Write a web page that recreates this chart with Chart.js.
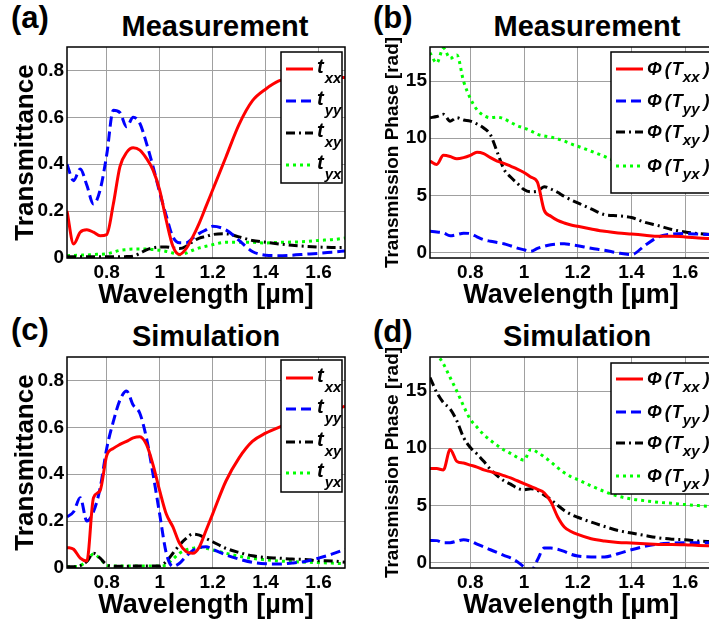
<!DOCTYPE html>
<html lang="en">

<head>
  <meta charset="UTF-8" />
  <meta name="viewport" content="width=device-width, initial-scale=1.0" />
  <title>Transmittance and Transmission Phase</title>
  <script src="https://cdn.jsdelivr.net/npm/chart.js"></script>
  <style>
    html, body { margin: 0; padding: 0; background: #fff; overflow: hidden; }
    body { width: 709px; height: 627px; position: relative; font-family: "Liberation Sans", Arial, sans-serif; }
    canvas { position: absolute; }
    .label { position: absolute; font-weight: bold; font-size: 31px; line-height: 1; }
    .title { position: absolute; font-weight: bold; font-size: 29px; line-height: 1; transform: translate(-50%, -50%); white-space: nowrap; }
  </style>
</head>

<body>
  <!-- panel labels and titles -->
  <div class="label" style="left:11px;top:2px">(a)</div>
  <div class="title" style="left:215px;top:26px">Measurement</div>
  <div class="label" style="left:373px;top:2px">(b)</div>
  <div class="title" style="left:587px;top:26px">Measurement</div>
  <div class="label" style="left:11px;top:314px">(c)</div>
  <div class="title" style="left:206px;top:336px">Simulation</div>
  <div class="label" style="left:373px;top:316px">(d)</div>
  <div class="title" style="left:577px;top:336px">Simulation</div>

  <canvas id="chartA" width="355" height="320" style="left:0;top:0"></canvas>
  <canvas id="chartB" width="380" height="320" style="left:355px;top:0"></canvas>
  <canvas id="chartC" width="355" height="320" style="left:0;top:310px"></canvas>
  <canvas id="chartD" width="380" height="320" style="left:355px;top:310px"></canvas>

  <script>
    // wavelength grid [µm], shared by every series
    const wavelength = [0.65, 0.675, 0.7, 0.725, 0.75, 0.775, 0.8, 0.825, 0.85, 0.875, 0.9, 0.925, 0.95, 0.975,
      1.0, 1.025, 1.05, 1.075, 1.1, 1.125, 1.15, 1.175, 1.2, 1.25, 1.3, 1.35, 1.4, 1.45, 1.5, 1.55, 1.6, 1.65, 1.7];

    const xTicks = [0.8, 1.0, 1.2, 1.4, 1.6];
    const ampTicks = [0, 0.2, 0.4, 0.6, 0.8];
    const phaseTicks = [0, 5, 10, 15];
    const subscripts = ['xx', 'yy', 'xy', 'yx'];

    // (a) measured transmittance
    const measTxx = [0.20, 0.06, 0.11, 0.12, 0.11, 0.095, 0.10, 0.23, 0.39, 0.45, 0.47, 0.46, 0.425, 0.375, 0.29, 0.16, 0.05,
      0.015, 0.04, 0.09, 0.15, 0.22, 0.29, 0.43, 0.57, 0.67, 0.72, 0.755, 0.77, 0.775, 0.775, 0.77, 0.77];
    const measTyy = [0.40, 0.33, 0.38, 0.31, 0.23, 0.29, 0.44, 0.63, 0.62, 0.56, 0.60, 0.575, 0.49, 0.39, 0.28, 0.18, 0.09,
      0.065, 0.065, 0.085, 0.105, 0.12, 0.135, 0.12, 0.075, 0.028, 0.012, 0.01, 0.012, 0.016, 0.02, 0.025, 0.03];
    const measTxy = [0.005, 0.005, 0.005, 0.005, 0.005, 0.005, 0.005, 0.005, 0.005, 0.006, 0.008, 0.02, 0.035, 0.043, 0.047, 0.047, 0.043,
      0.04, 0.05, 0.07, 0.085, 0.092, 0.10, 0.103, 0.09, 0.075, 0.067, 0.06, 0.054, 0.05, 0.047, 0.045, 0.045];
    const measTyx = [0.01, 0.011, 0.012, 0.013, 0.015, 0.016, 0.018, 0.025, 0.033, 0.036, 0.038, 0.038, 0.038, 0.036, 0.033, 0.028, 0.021,
      0.014, 0.021, 0.033, 0.043, 0.05, 0.057, 0.067, 0.067, 0.067, 0.064, 0.067, 0.068, 0.07, 0.075, 0.078, 0.085];

    // (b) measured transmission phase [rad]
    const measPxx = [8.0, 7.7, 8.5, 8.4, 8.2, 8.3, 8.5, 8.77, 8.65, 8.3, 8.0, 7.8, 7.55, 7.3, 7.0, 6.6, 6.15,
      3.7, 3.16, 2.8, 2.57, 2.4, 2.28, 2.05, 1.84, 1.7, 1.6, 1.5, 1.4, 1.4, 1.35, 1.26, 1.2];
    const measPyy = [1.84, 1.78, 1.7, 1.45, 1.55, 1.68, 1.64, 1.35, 1.1, 0.97, 0.86, 0.75, 0.57, 0.37, 0.22, 0.08, 0.35,
      0.53, 0.67, 0.73, 0.76, 0.67, 0.58, 0.35, 0.18, -0.06, -0.2, 0.6, 1.35, 1.6, 1.64, 1.6, 1.55];
    const measPxy = [11.8, 11.9, 12.1, 11.5, 11.8, 11.6, 11.5, 11.25, 10.9, 10.3, 8.8, 7.3, 6.6, 6.05, 5.5, 5.3, 5.35,
      5.75, 5.55, 5.26, 4.9, 4.6, 4.33, 3.8, 3.3, 3.2, 3.05, 2.63, 2.34, 2.0, 1.78, 1.64, 1.55];
    const measPyx = [17.5, 16.6, 17.9, 17.0, 17.3, 15.0, 13.5, 12.5, 12.0, 11.8, 11.85, 11.7, 11.4, 11.1, 10.9, 10.65, 10.35,
      10.2, 10.1, 9.95, 9.75, 9.5, 9.3, 8.86, 8.4, 7.9, 7.4, 7.0, 6.6, 6.3, 6.05, 5.8, 5.6];

    // (c) simulated transmittance
    const simTxx = [0.088, 0.08, 0.042, 0.03, 0.30, 0.33, 0.48, 0.51, 0.527, 0.54, 0.555, 0.56, 0.527, 0.44, 0.33, 0.23, 0.175,
      0.105, 0.07, 0.063, 0.09, 0.16, 0.23, 0.37, 0.47, 0.54, 0.575, 0.60, 0.62, 0.64, 0.655, 0.67, 0.69];
    const simTyy = [0.218, 0.24, 0.30, 0.20, 0.24, 0.34, 0.51, 0.625, 0.716, 0.755, 0.695, 0.66, 0.555, 0.40, 0.23, 0.063, 0.007,
      0.02, 0.05, 0.075, 0.088, 0.091, 0.08, 0.056, 0.038, 0.024, 0.018, 0.017, 0.021, 0.028, 0.042, 0.059, 0.08];
    const simTxy = [0.005, 0.005, 0.01, 0.028, 0.063, 0.042, 0.014, 0.008, 0.007, 0.007, 0.008, 0.008, 0.008, 0.008, 0.008, 0.028, 0.063,
      0.098, 0.126, 0.145, 0.14, 0.126, 0.112, 0.084, 0.066, 0.052, 0.045, 0.042, 0.038, 0.036, 0.031, 0.03, 0.025];
    const simTyx = [0.005, 0.006, 0.01, 0.03, 0.06, 0.04, 0.012, 0.008, 0.008, 0.008, 0.008, 0.008, 0.008, 0.008, 0.008, 0.014, 0.038,
      0.063, 0.077, 0.084, 0.088, 0.084, 0.077, 0.063, 0.05, 0.041, 0.035, 0.03, 0.027, 0.025, 0.023, 0.021, 0.018];

    // (d) simulated transmission phase [rad]
    const simPxx = [8.23, 8.22, 8.1, 9.9, 8.85, 8.7, 8.52, 8.35, 8.1, 7.95, 7.8, 7.6, 7.4, 7.15, 6.9, 6.65, 6.4,
      6.1, 5.3, 4.0, 3.1, 2.7, 2.44, 2.06, 1.86, 1.74, 1.69, 1.63, 1.57, 1.57, 1.54, 1.48, 1.45];
    const simPyy = [1.92, 1.9, 1.72, 1.72, 1.85, 1.98, 1.86, 1.6, 1.35, 1.1, 0.85, 0.6, 0.38, 0.05, -0.4, -0.8, 0.2,
      1.25, 1.25, 1.15, 0.95, 0.7, 0.55, 0.47, 0.47, 0.75, 1.1, 1.4, 1.6, 1.68, 1.72, 1.72, 1.72];
    const simPxy = [16.2, 14.9, 14.0, 13.45, 12.4, 10.95, 10.06, 9.5, 8.85, 8.15, 7.6, 7.15, 6.85, 6.5, 6.35, 6.45, 6.3,
      5.9, 5.5, 5.0, 4.55, 4.2, 3.95, 3.52, 3.14, 2.79, 2.56, 2.35, 2.15, 2.03, 1.98, 1.86, 1.8];
    const simPyx = [19.5, 18.3, 17.4, 16.2, 15.0, 13.7, 12.54, 11.85, 11.2, 10.7, 10.25, 9.85, 9.55, 9.2, 8.95, 9.9, 9.65,
      9.25, 8.8, 8.3, 7.85, 7.5, 7.25, 6.7, 6.2, 5.8, 5.55, 5.4, 5.26, 5.17, 5.06, 4.97, 4.88];

    const lineColors = ['#ff0000', '#0000ff', '#000000', '#00ff00'];
    const lineDashes = [[], [10, 5], [9, 4, 2, 4], [3, 4]];
    const FONT = '"Liberation Sans", Arial, sans-serif';
    const fmt = v => String(Math.round(v * 100) / 100);

    // axes box + boxed legend with subscripts, drawn over the curves like MATLAB does
    const frameLegend = {
      id: 'frameLegend',
      afterDatasetsDraw(chart) {
        const { ctx, chartArea: a } = chart;
        ctx.save();
        ctx.strokeStyle = '#000';
        ctx.lineWidth = 1.5;
        ctx.strokeRect(a.left, a.top, a.right - a.left, a.bottom - a.top);
        ctx.restore();
      },
      afterDraw(chart, args, o) {
        const { ctx, chartArea: a } = chart;
        const bx = a.left + o.x, by = a.top + o.y;
        ctx.save();
        ctx.fillStyle = '#fff';
        ctx.fillRect(bx, by, o.w, o.h);
        ctx.strokeStyle = '#000';
        ctx.lineWidth = 1.5;
        ctx.strokeRect(bx, by, o.w, o.h);
        ctx.textBaseline = 'alphabetic';
        ctx.textAlign = 'left';
        chart.data.datasets.forEach((ds, i) => {
          const y = by + o.rows[i];
          ctx.beginPath();
          ctx.setLineDash(ds.borderDash);
          ctx.strokeStyle = ds.borderColor;
          ctx.lineWidth = ds.borderWidth;
          ctx.moveTo(bx + 5, y);
          ctx.lineTo(bx + 32, y);
          ctx.stroke();
          ctx.setLineDash([]);
          ctx.fillStyle = '#000';
          let x = bx + 36;
          const main = 'italic bold ' + (o.amp ? 20 : 18) + 'px ' + FONT;
          const sub = 'italic bold 15px ' + FONT;
          if (o.amp) {
            ctx.font = main;
            ctx.fillText('t', x, y + 4);
            x += ctx.measureText('t').width + 1;
            ctx.font = sub;
            ctx.fillText(subscripts[i], x, y + 14);
          } else {
            ctx.font = main;
            ctx.fillText('Φ', x, y + 6);
            x += ctx.measureText('Φ').width + 3;
            ctx.fillText('(', x, y + 6);
            x += ctx.measureText('(').width + 1;
            ctx.fillText('T', x, y + 6);
            x += ctx.measureText('T').width;
            ctx.font = sub;
            ctx.fillText(subscripts[i], x, y + 13);
            x += ctx.measureText(subscripts[i]).width + 4;
            ctx.font = main;
            ctx.fillText(')', x, y + 6);
          }
        });
        ctx.restore();
      }
    };

    function makeChart(id, values, p) {
      const tickFont = { family: FONT, size: 19, weight: 'bold' };
      return new Chart(document.getElementById(id), {
        type: 'line',
        data: {
          datasets: values.map((vals, i) => ({
            label: 'T' + subscripts[i],
            data: wavelength.map((w, k) => ({ x: w, y: vals[k] })),
            borderColor: lineColors[i],
            borderDash: lineDashes[i],
            borderWidth: 3,
            pointRadius: 0,
            fill: false,
            cubicInterpolationMode: 'monotone'
          }))
        },
        options: {
          responsive: false,
          animation: false,
          layout: { padding: { left: 0, top: 47, right: p.padRight, bottom: 0 } },
          plugins: {
            legend: { display: false },
            tooltip: { enabled: false },
            frameLegend: p.legend
          },
          scales: {
            x: {
              type: 'linear',
              min: 0.65,
              max: 1.7,
              afterBuildTicks: s => { s.ticks = xTicks.map(v => ({ value: v })); },
              afterFit: s => { s.height = 62; s.paddingLeft = 0; s.paddingRight = 0; },
              grid: { color: '#a0a0a0', lineWidth: 1, drawTicks: false },
              border: { display: false },
              ticks: { font: tickFont, color: '#000', padding: 3, maxRotation: 0, autoSkip: false, callback: fmt },
              title: { display: true, text: 'Wavelength [µm]', color: '#000', font: { family: FONT, size: 27, weight: 'bold' }, padding: { top: 0, bottom: 8 } }
            },
            y: {
              min: p.yMin,
              max: p.yMax,
              afterBuildTicks: s => { s.ticks = p.yTicks.map(v => ({ value: v })); },
              afterFit: s => { s.width = p.yWidth; s.paddingTop = 0; s.paddingBottom = 0; },
              grid: { color: '#a0a0a0', lineWidth: 1, drawTicks: false },
              border: { display: false },
              ticks: { font: tickFont, color: '#000', padding: 3, autoSkip: false, callback: fmt },
              title: { display: true, text: p.yTitle, color: '#000', font: { family: FONT, size: p.yTitleSize, weight: 'bold' }, padding: { top: p.yTitlePad, bottom: 0 } }
            }
          }
        },
        plugins: [frameLegend]
      });
    }

    const ampAxis = { yMin: 0, yMax: 0.9, yTicks: ampTicks, yTitle: 'Transmittance', yTitleSize: 26, yTitlePad: 10, yWidth: 67, padRight: 10 };
    const phaseAxis = { yMin: -0.5, yMax: 18, yTicks: phaseTicks, yTitle: 'Transmission Phase [rad]', yTitleSize: 19, yTitlePad: 26, yWidth: 75, padRight: 23 };

    makeChart('chartA', [measTxx, measTyy, measTxy, measTyx],
      { ...ampAxis, legend: { amp: true, x: 214, y: 5, w: 61, h: 131, rows: [17, 49, 81, 113] } });
    makeChart('chartB', [measPxx, measPyy, measPxy, measPyx],
      { ...phaseAxis, legend: { amp: false, x: 181, y: 5, w: 120, h: 141, rows: [17, 49, 80, 114] } });
    makeChart('chartC', [simTxx, simTyy, simTxy, simTyx],
      { ...ampAxis, legend: { amp: true, x: 214, y: 3, w: 61, h: 132, rows: [18, 49, 82, 113] } });
    makeChart('chartD', [simPxx, simPyy, simPxy, simPyx],
      { ...phaseAxis, legend: { amp: false, x: 181, y: 6, w: 120, h: 131, rows: [16, 49, 80, 113] } });
  </script>
</body>

</html>
